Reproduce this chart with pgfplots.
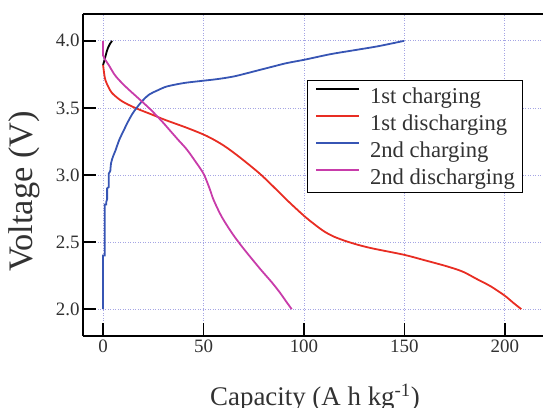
\documentclass[border=0pt]{standalone}
\usepackage{fontspec}
\setmainfont{Liberation Serif}
\usepackage{pgfplots}
\pgfplotsset{compat=1.18}
\definecolor{cred}{RGB}{232,45,35}
\definecolor{cblue}{RGB}{55,85,180}
\definecolor{cmag}{RGB}{200,60,170}
\definecolor{cgrid}{RGB}{165,165,228}
\definecolor{ctick}{RGB}{50,50,50}
\begin{document}
\begin{tikzpicture}
\begin{axis}[
  scale only axis, width=460bp, height=322bp,
  xmin=-10, xmax=219, ymin=1.8, ymax=4.2,
  axis x line*=box, axis y line*=left,
  xtick pos=bottom,
  axis line style={line width=1.5bp, black},
  xtick={0,50,100,150,200},
  ytick={2.0,2.5,3.0,3.5,4.0},
  yticklabel style={/pgf/number format/fixed,/pgf/number format/precision=1,/pgf/number format/fixed zerofill},
  /pgf/number format/assume math mode=true,
  ticklabel style={font=\fontsize{19}{22}\selectfont, text=ctick},
  tick align=inside, major tick length=13bp,
  tick style={line width=1.5bp, black},
  grid=major,
  major grid style={line width=0.8bp, cgrid, dash pattern=on 1bp off 1.5bp},
  xlabel={Capacity (A h kg\textsuperscript{-1})},
  ylabel={Voltage (V)},
  xlabel style={font=\fontsize{27}{30}\selectfont, text=ctick, at={(axis description cs:0.5,0)}, anchor=base, yshift=-69bp, xshift=2bp},
  ylabel style={font=\fontsize{34.5}{38}\selectfont, text=ctick, at={(axis description cs:0,0.449)}, anchor=base, rotate=0, yshift=50bp},
  legend style={at={(axis description cs:1,1)}, anchor=north east, xshift=-19.7bp, yshift=-66bp,
    font=\fontsize{22.7}{26}\selectfont, text=ctick, draw=black, line width=1bp,
    inner xsep=8bp, inner ysep=7bp, row sep=9.8bp,
    nodes={inner sep=0bp},
    /tikz/every odd column/.append style={column sep=10bp}},
  legend cell align=left,
  legend image code/.code={\draw[#1, line width=2bp] (0bp,7bp) -- (43bp,7bp);},
  every axis plot/.append style={line width=1.8bp},
]
\addplot[black] coordinates {(0,3.82) (0.6,3.85) (1.1,3.88) (1.8,3.92) (2.5,3.95) (3.5,3.98) (4.5,4.0)};
\addlegendentry{1st charging}
\addplot[cred, smooth] coordinates {(0,3.82) (0.5,3.76) (1.1,3.71) (2.5,3.66) (4.5,3.61) (9.4,3.55) (16,3.50) (24.4,3.45) (31,3.41) (42,3.35) (51.7,3.29) (60,3.22) (68.2,3.13) (78,3.01) (85,2.91) (91.4,2.815) (99.7,2.70) (105,2.635) (110,2.58) (115,2.54) (121.3,2.505) (128,2.475) (135,2.45) (149.9,2.405) (160,2.365) (171,2.32) (179,2.28) (186,2.225) (193,2.17) (200,2.10) (204,2.05) (208.2,2.0)};
\addlegendentry{1st discharging}
\addplot[cblue, smooth] coordinates {(3.6,3.03) (4,3.09) (5,3.14) (6.1,3.18) (8,3.26) (10.2,3.33) (12.5,3.40) (15.2,3.47) (19.4,3.55) (23,3.60) (27,3.63) (31.8,3.66) (40,3.685) (48.2,3.70) (57,3.715) (64.9,3.734) (72,3.76) (78.2,3.784) (85,3.81) (91.4,3.834) (100.5,3.86) (113,3.90) (125,3.93) (137,3.96) (149.9,4.0)};
\addlegendentry{2nd charging}
\addplot[cmag, smooth] coordinates {(0,4.0) (0,3.89) (1,3.86) (2.8,3.82) (6.1,3.74) (11.1,3.66) (17.7,3.57) (23.5,3.49) (29.3,3.40) (33.4,3.33) (37.5,3.26) (41.7,3.19) (46,3.10) (50,3.01) (53,2.90) (55,2.815) (59,2.69) (64.5,2.56) (70,2.45) (78.2,2.30) (84,2.20) (88.2,2.12) (91,2.06) (93.9,2.0)};
\addlegendentry{2nd discharging}
\addplot[cblue, forget plot] coordinates {(0,2.0) (0,2.40) (0.8,2.40) (0.8,2.78) (1.6,2.78) (1.6,2.80) (2,2.82) (2,2.9) (2.8,2.91) (2.8,3.01) (3.6,3.03)};
\end{axis}
\pgfresetboundingbox
\useasboundingbox ([xshift=-83bp,yshift=-72bp]current axis.south west) rectangle ([yshift=14bp]current axis.north east);
\end{tikzpicture}
\end{document}
